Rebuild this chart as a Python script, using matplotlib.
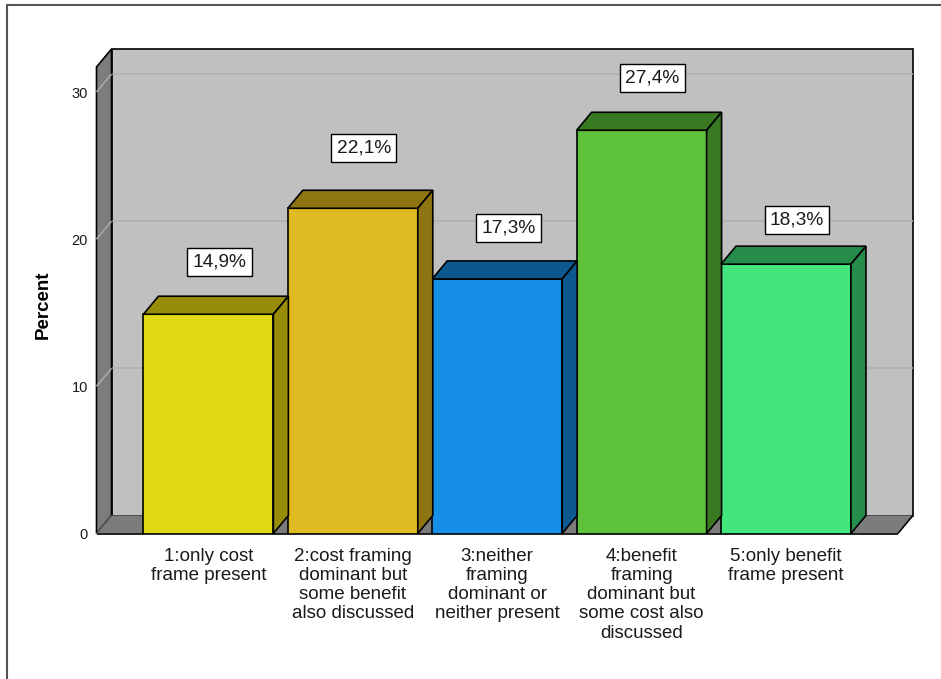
import matplotlib
matplotlib.use("Agg")
import matplotlib.pyplot as plt
from matplotlib.patches import Polygon, Rectangle
import numpy as np

plt.rcParams['font.family'] = ['Liberation Sans', 'DejaVu Sans']

# ---- data ----
categories = [
    "1:only cost\nframe present",
    "2:cost framing\ndominant but\nsome benefit\nalso discussed",
    "3:neither\nframing\ndominant or\nneither present",
    "4:benefit\nframing\ndominant but\nsome cost also\ndiscussed",
    "5:only benefit\nframe present",
]
percent = [14.9, 22.1, 17.3, 27.4, 18.3]
value_labels = ["14,9%", "22,1%", "17,3%", "27,4%", "18,3%"]
y_ticks = [0, 10, 20, 30]

# ---- styling ----
face_colors = ["#e3d912", "#e0ba22", "#168fe6", "#5ec33a", "#42e67d"]
dark_colors = ["#978d09", "#8f7512", "#0d588f", "#387922", "#268c4b"]
wall_color = "#c0c0c0"
side_wall_color = "#7c7c7c"
floor_color = "#7c7c7c"
grid_color = "#b0b0b0"
depth_px = (15, 18)           # 3-D depth offset in pixels (right, up)
label_lift_px = [34, 42, 33, 34, 26]  # label centre above bar's back top edge
label_shift_px = 11

W, H = 941, 679
fig = plt.figure(figsize=(W / 100, H / 100), dpi=100)
fig.patch.set_facecolor("white")

left_px, right_px = 96.5, 897.9
bottom_px, top_px = 533.5, 67.0
ax = fig.add_axes([left_px / W, 1 - bottom_px / H,
                   (right_px - left_px) / W, (bottom_px - top_px) / H])
xmin, xmax = -0.775, len(percent) - 1 + 0.775
ymin, ymax = 0, 31.7
ax.set_xlim(xmin, xmax)
ax.set_ylim(ymin, ymax)
ax.set_facecolor("none")
for s in ax.spines.values():
    s.set_visible(False)

# depth offset expressed in data units
p0 = ax.transData.transform((0, 0))
dx, dy = ax.transData.inverted().transform(p0 + np.array(depth_px)) - np.array([0, 0])


def poly(pts, fc, ec="none", lw=1.0, z=1):
    p = Polygon(pts, closed=True, facecolor=fc, edgecolor=ec, linewidth=lw,
                zorder=z, clip_on=False, joinstyle="miter")
    ax.add_patch(p)
    return p


def line(xs, ys, color, lw=1.0, z=2):
    ax.plot(xs, ys, color=color, lw=lw, zorder=z, clip_on=False,
            solid_capstyle="butt")


# back wall
poly([(xmin + dx, dy), (xmax + dx, dy), (xmax + dx, ymax + dy), (xmin + dx, ymax + dy)],
     wall_color, ec="black", lw=1.2, z=1)
for t in y_ticks[1:]:
    line([xmin + dx, xmax + dx], [t + dy, t + dy], grid_color, lw=1.2, z=1.5)

# left side wall
poly([(xmin, 0), (xmin, ymax), (xmin + dx, ymax + dy), (xmin + dx, dy)],
     side_wall_color, ec="black", lw=1.2, z=2)
for t in y_ticks[1:]:
    line([xmin, xmin + dx], [t, t + dy], "#a8a8a8", lw=1.2, z=2.5)

# floor
poly([(xmin, 0), (xmax, 0), (xmax + dx, dy), (xmin + dx, dy)], floor_color, z=3)
line([xmin, xmax], [0, 0], "black", lw=1.2, z=3.5)
line([xmax, xmax + dx], [0, dy], "black", lw=1.2, z=3.5)
line([xmin, xmin + dx], [0, dy], "#555555", lw=1.0, z=3.5)

# bars
width = 0.90
x = np.arange(len(percent))
ax.bar(x, percent, width=width, color=face_colors, edgecolor="black",
       linewidth=1.2, zorder=5)
for i, v in enumerate(percent):
    x0, x1 = i - width / 2, i + width / 2
    poly([(x0, v), (x1, v), (x1 + dx, v + dy), (x0 + dx, v + dy)],
         dark_colors[i], ec="black", lw=1.2, z=5)
    poly([(x1, 0), (x1, v), (x1 + dx, v + dy), (x1 + dx, dy)],
         dark_colors[i], ec="black", lw=1.2, z=5)
    ax.annotate(value_labels[i], xy=(i, v + dy), xycoords="data",
                xytext=(label_shift_px * 0.72, label_lift_px[i] * 0.72),
                textcoords="offset points", ha="center", va="center",
                fontsize=13.8, color="#1a1a1a", zorder=6, annotation_clip=False,
                bbox=dict(boxstyle="square,pad=0.28", fc="white", ec="black", lw=1.0))

# axes ticks and labels
ax.set_yticks(y_ticks)
ax.set_yticklabels([str(t) for t in y_ticks], fontsize=10.5, color="#1a1a1a")
ax.set_xticks(x)
ax.set_xticklabels(categories, fontsize=13.5, color="#1a1a1a", linespacing=1.17)
ax.tick_params(axis="both", length=0)
ax.tick_params(axis="y", pad=6.1)
ax.tick_params(axis="x", pad=10.3)

fig.text(43.5 / W, 1 - 305 / H, "Percent", rotation=90, ha="center", va="center",
         fontsize=13.5, fontweight="bold", color="black")

# outer frame
fig.add_artist(Rectangle((6.5 / W, -0.1), 1.2, 1 - 4.7 / H + 0.1,
                         transform=fig.transFigure, fill=False,
                         edgecolor="#555555", linewidth=1.5, clip_on=False))

fig.savefig("out.png", dpi=100)
